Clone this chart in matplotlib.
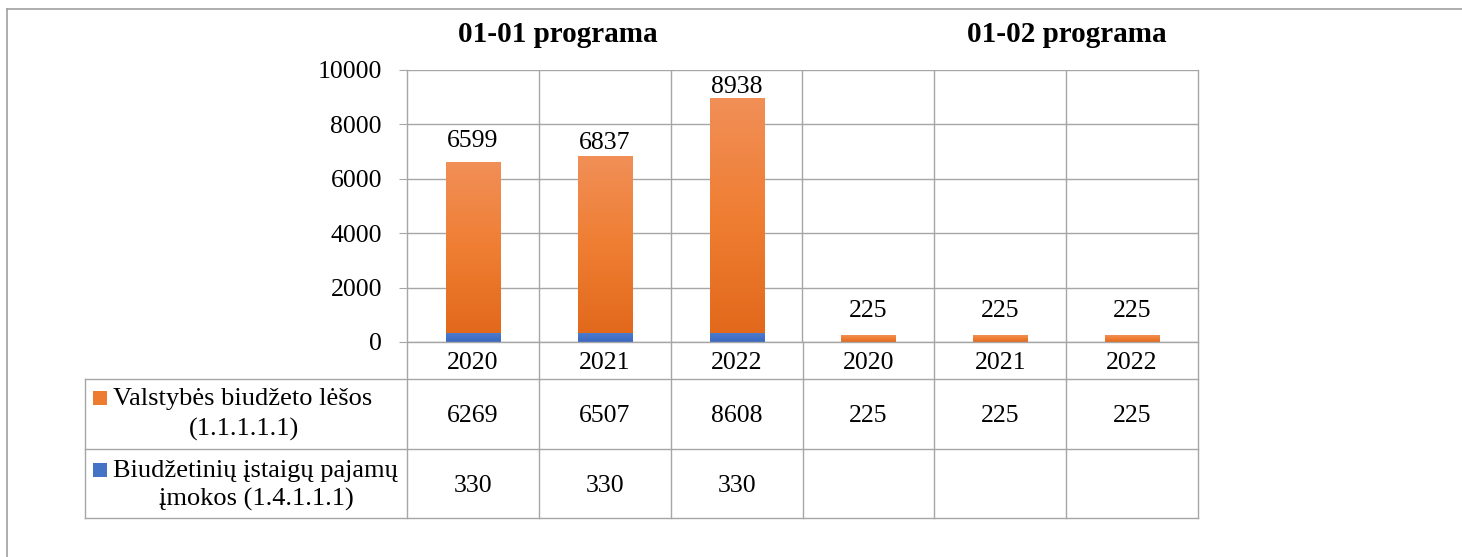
import numpy as np
import matplotlib.pyplot as plt
from matplotlib.colors import LinearSegmentedColormap
from matplotlib.patches import Rectangle
from matplotlib.lines import Line2D

plt.rcParams['font.family'] = ['Liberation Serif', 'DejaVu Serif']

programs = ["01-01 programa", "01-02 programa"]
years = ["2020", "2021", "2022", "2020", "2021", "2022"]
valstybes = [6269, 6507, 8608, 225, 225, 225]
imokos = [330, 330, 330, None, None, None]
series_names = ["Valstybės biudžeto lėšos", "Biudžetinių įstaigų pajamų"]
series_codes = ["(1.1.1.1.1)", "įmokos (1.4.1.1.1)"]

W, H = 1462, 557
fig = plt.figure(figsize=(W / 100, H / 100), dpi=100)


def fx(x):
    return x / W


def fy(y):
    return 1 - y / H


def hline(x0, x1, y, c="#A6A6A6", lw=1.0):
    fig.add_artist(Line2D([fx(x0), fx(x1)], [fy(y), fy(y)], color=c, lw=lw))


def vline(x, y0, y1, c="#A6A6A6", lw=1.0):
    fig.add_artist(Line2D([fx(x), fx(x)], [fy(y0), fy(y1)], color=c, lw=lw))


# outer frame
hline(7, W, 9, c="#A0A0A0", lw=1.2)
vline(7, 9, H, c="#A0A0A0", lw=1.2)

left, right, top, bottom = 407, 1198, 70, 342
ax = fig.add_axes([fx(left), fy(bottom), fx(right - left), (bottom - top) / H])

orange_cm = LinearSegmentedColormap.from_list("o", ["#E2691C", "#EF7E33", "#F18F57"])
blue_cm = LinearSegmentedColormap.from_list("b", ["#3A68BF", "#4B7BCF"])
grad = np.linspace(0, 1, 100).reshape(-1, 1)

# label gap above each bar top (points), as placed in the original
label_gap = [11, 5, 4.5, 13.5, 13.5, 13.5]

bw = 0.41
x = np.arange(len(years))
for i in x:
    b = imokos[i] or 0
    if b:
        ax.imshow(grad, extent=[i - bw / 2, i + bw / 2, 0, b], origin="lower",
                  cmap=blue_cm, aspect="auto", zorder=3)
    ax.imshow(grad, extent=[i - bw / 2, i + bw / 2, b, b + valstybes[i]], origin="lower",
              cmap=orange_cm, aspect="auto", zorder=3)
    ax.annotate(str(b + valstybes[i]), (i, b + valstybes[i]), xytext=(0, label_gap[i]),
                textcoords="offset points", ha="center", va="baseline", fontsize=18.5,
                annotation_clip=False)

ax.set_xlim(-0.5, 5.5)
ax.set_ylim(0, 10000)
ax.set_yticks(range(0, 10001, 2000))
ax.set_xticks([])
ax.grid(axis="y", color="#A6A6A6", lw=1.0, zorder=0)
for k in range(1, 6):
    ax.axvline(k - 0.5, color="#A6A6A6", lw=1.0, zorder=0)
for s in ["top", "bottom", "left", "right"]:
    ax.spines[s].set_visible(False)
ax.tick_params(axis="y", length=6, color="#A6A6A6", labelsize=18.5, pad=12)

# axis line, category boundaries through the table
col_w = (right - left) / 6
vline(left, top, 518)
vline(right, top, 518)
for k in range(1, 6):
    vline(left + k * col_w, bottom, 518)
hline(left, right, bottom)
for y in (379, 449, 518):
    hline(85, right, y)
vline(85, 379, 518)

# titles
fig.text(fx(558), fy(42), programs[0], ha="center", va="baseline", fontsize=21, fontweight="bold")
fig.text(fx(1067), fy(42), programs[1], ha="center", va="baseline", fontsize=21, fontweight="bold")

# table contents
for i in range(6):
    cx = fx(left + (i + 0.5) * col_w)
    fig.text(cx, fy(369), years[i], ha="center", va="baseline", fontsize=18.5)
    fig.text(cx, fy(422), str(valstybes[i]), ha="center", va="baseline", fontsize=18.5)
    if imokos[i] is not None:
        fig.text(cx, fy(492), str(imokos[i]), ha="center", va="baseline", fontsize=18.5)

row_base = [(405, 436), (477, 506)]
code_x = [244, 256]
cols = ["#EE7C30", "#4472C4"]
for r in range(2):
    fig.add_artist(Rectangle((fx(93), fy(row_base[r][0])), fx(14), 14 / H,
                             facecolor=cols[r], edgecolor="none"))
    fig.text(fx(113), fy(row_base[r][0]), series_names[r], ha="left", va="baseline", fontsize=19)
    fig.text(fx(code_x[r]), fy(row_base[r][1]), series_codes[r], ha="center", va="baseline", fontsize=19)

fig.savefig("out.png", dpi=100)
